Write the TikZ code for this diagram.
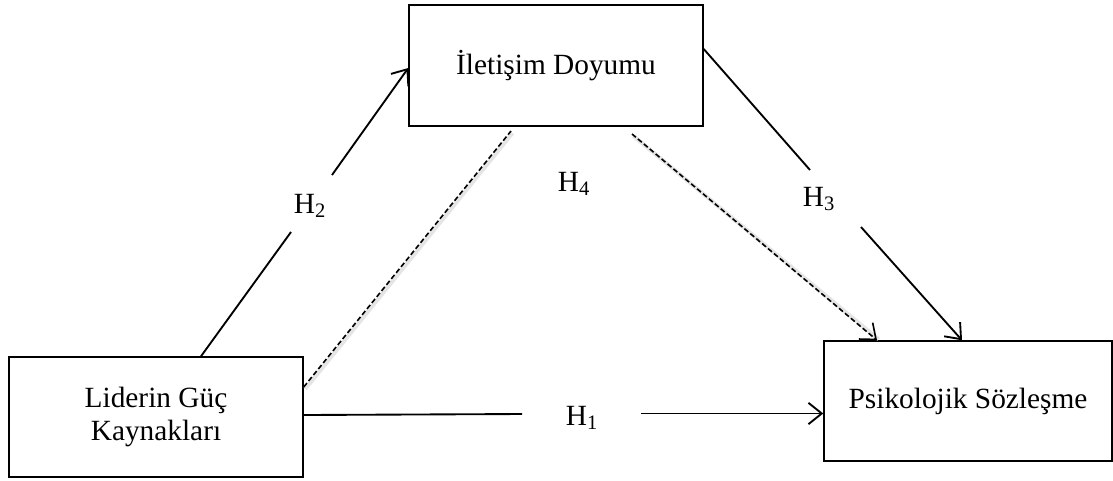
\documentclass[tikz,border=0pt]{standalone}
\usepackage{fontspec}
\setmainfont{Liberation Serif}
\usetikzlibrary{arrows.meta,calc}
\begin{document}
\begin{tikzpicture}[x=0.75pt,y=-0.75pt,
  box/.style={draw=black,line width=1.1pt,minimum width=#1,inner sep=0pt,align=center,
    font=\fontsize{22}{24.5}\selectfont},
  lbl/.style={font=\fontsize{22}{24.5}\selectfont,inner sep=0pt},
  conn/.style={line width=1.4pt},
  tip/.style={-{Straight Barb[length=10pt,width=16pt,line width=1.4pt]}},
  dashline/.style={line width=1.2pt,dash pattern=on 3.8pt off 2pt},
  shadowline/.style={line width=3pt,draw=black!10}
]
\useasboundingbox (0,0) rectangle (1113,480);
% boxes
\node[box=220.5pt,minimum height=90.75pt] (top) at (556,65.5) {\.Ileti\c{s}im Doyumu};
\node[box=220.5pt,minimum height=90pt] (left) at (156,417) {Liderin G\"u\c{c}\\Kaynaklar\i};
\node[box=216pt,minimum height=90pt] (psi) at (968,401) {\raisebox{4.5pt}{Psikolojik S\"ozle\c{s}me}};
% gap coordinates
\coordinate (g2a) at (291,232);
\coordinate (g2b) at (332,175);
\coordinate (g1a) at (522,414);
\coordinate (g1b) at (641,413.5);
\coordinate (g3a) at (810,170);
\coordinate (g3b) at (861,227);
\coordinate (d4a) at (511,131);
\coordinate (d4b) at (632,134);
\coordinate (d4s) at ([shift={(0,-30)}]left.east);
\coordinate (d4e) at ([shift={(-91,0)}]psi.north);
% labels
\node[lbl] (h2) at (310,206) {H\textsubscript{2}};
\node[lbl] (h1) at (582,418) {H\textsubscript{1}};
\node[lbl] (h3) at (819,199) {H\textsubscript{3}};
\node[lbl] (h4) at (574,184) {H\textsubscript{4}};
% shadows of dashed lines
\draw[shadowline] ([shift={(1.5,2)}]d4s) -- ([shift={(1.5,2)}]d4a);
\draw[shadowline] ([shift={(1.5,2)}]d4b) -- ([shift={(1.5,-1)}]d4e);
% H2
\draw[conn] ([shift={(45,0)}]left.north) -- (g2a);
\draw[conn,tip] (g2b) -- ([shift={(0,2.5)}]top.west);
% H1
\draw[conn] ([shift={(0,-2)}]left.east) -- (g1a);
\draw[conn,tip] (g1b) -- ([shift={(0,12.5)}]psi.west);
% H3
\draw[conn] ([shift={(0,-16.5)}]top.east) -- (g3a);
\draw[conn,tip] (g3b) -- ([shift={(-6,0)}]psi.north);
% H4 dashed
\draw[dashline] (d4s) -- (d4a);
\draw[dashline,-{Straight Barb[length=10pt,width=16pt,line width=1.2pt]}] (d4b) -- (d4e);
\end{tikzpicture}
\end{document}
